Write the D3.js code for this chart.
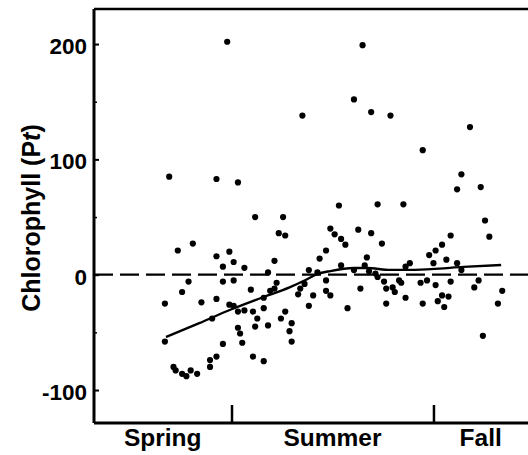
<!DOCTYPE html>
<html>
<head>
<meta charset="utf-8">
<script src="https://cdn.jsdelivr.net/npm/d3@7"></script>
<style>
  body { margin: 0; background: #fff; }
  svg { display: block; }
  text { font-family: "Liberation Sans", Arial, Helvetica, sans-serif; font-weight: bold; fill: #000; }
</style>
</head>
<body>
<svg id="chart" width="528" height="455"></svg>
<script>
// Sampling day of year for each observation
const sampleDay = [
  141, 141, 143, 145, 146, 147, 149, 151, 149, 152, 153, 154, 156, 158, 162, 162, 163, 165, 165, 165,
  165, 168, 168, 168, 170, 171, 171,
  173, 173, 173, 175, 175, 175, 176, 177, 178, 178, 181, 182, 182, 183, 183, 184, 187, 187, 187, 189,
  189, 190, 192, 192, 193, 194, 195, 196, 197, 197, 199, 200, 200, 203, 205, 204, 206, 208, 208, 210,
  212, 213, 216, 216, 216, 218, 218, 220, 222, 223, 223, 225, 226, 229, 229, 231, 232, 233, 234, 235,
  236, 237, 237, 239, 240, 240, 242, 243, 244, 244, 246, 247, 248, 250, 251, 252, 253, 253, 255, 260,
  261, 261, 263, 264,
  266, 267, 267, 268, 270, 270, 271, 272, 273, 274, 274, 277, 277, 279, 279, 283, 285, 287, 288, 289,
  290, 292, 296, 298
];

// Chlorophyll anomaly (Pt) for each observation
const chlorophyll = [
  -25, -58, 85, -80, -83, 21, -86, -88, -15, -6, -83, 27, -86, -24, -80, -74, -38, -71, 83, 16,
  -21, 7, -60, -6, 202, 20, -26,
  11, -5, -27, 80, -32, -46, -51, -59, 6, -31, -13, -32, -71, 50, -45, -38, -20, -29, -75, 2,
  -44, -14, 12, -12, -7, 36, -38, 50, 34, -32, -49, -42, -58, -17, 138, -12, -8, 4, -27, -18,
  2, 14, 21, -5, -14, 40, -18, 35, 60, 31, 8, 26, -29, 152, 4, 39, -12, 199, 8, 15,
  3, 36, 141, 1, 61, -2, 27, -6, -12, -25, 138, -11, -15, -5, -7, 61, -20, 7, 10, -7,
  108, -25, -5, 17,
  10, 21, -9, -23, 26, -18, -28, 13, -19, 34, -6, 10, 74, 87, 4, 128, -11, -5, 76, -53,
  47, 33, -25, -14
];

// Smoothed seasonal trend
const trendDay   = [141.5, 157, 172, 186, 199, 206, 212, 218, 229, 235, 246, 254, 265, 280, 297.5];
const trendValue = [-54, -42, -30, -20, -11, -5, 0.6, 3.2, 5.8, 5.8, 4.1, 4.1, 4.9, 6.7, 8.4];

// Seasons along the time axis (day-of-year boundaries)
const seasons = ["Spring", "Summer", "Fall"];
const seasonEdges = [108, 172, 266, 310];

// Y axis ticks
const majorTicks = [-100, 0, 100, 200];
const minorTicks = [-50, 50, 150];

const svg = d3.select("#chart");
const plotLeft = 94, plotTop = 9, plotRight = 528, plotBottom = 423;

const x = d3.scaleLinear().domain([seasonEdges[0], seasonEdges[3]]).range([plotLeft, plotRight]);
const y = d3.scaleLinear().domain([-128.6, 230.4]).range([plotBottom, plotTop]);

// Zero reference line
svg.append("line")
  .attr("x1", plotLeft).attr("x2", plotRight)
  .attr("y1", y(0)).attr("y2", y(0))
  .attr("stroke", "#000").attr("stroke-width", 2.2)
  .attr("stroke-dasharray", "19,7");

// Observations
svg.append("g").selectAll("circle")
  .data(sampleDay.map((d, i) => [d, chlorophyll[i]]))
  .join("circle")
  .attr("cx", d => x(d[0]))
  .attr("cy", d => y(d[1]))
  .attr("r", 3.1)
  .attr("fill", "#000");

// Trend line
svg.append("path")
  .datum(trendDay.map((d, i) => [d, trendValue[i]]))
  .attr("fill", "none")
  .attr("stroke", "#000")
  .attr("stroke-width", 2.3)
  .attr("stroke-linejoin", "round")
  .attr("d", d3.line().x(d => x(d[0])).y(d => y(d[1])).curve(d3.curveMonotoneX));

// Top frame line
svg.append("line")
  .attr("x1", plotLeft).attr("x2", plotRight)
  .attr("y1", plotTop).attr("y2", plotTop)
  .attr("stroke", "#000").attr("stroke-width", 2.6);

// Left axis with inward ticks (plain hyphen for negatives)
const yAxis = svg.append("g")
  .attr("transform", `translate(${plotLeft},0)`)
  .call(d3.axisLeft(y).tickValues(majorTicks).tickSize(-5).tickSizeOuter(0).tickPadding(7)
    .tickFormat(d => String(d)));
yAxis.attr("font-family", null).attr("font-size", null);
yAxis.select(".domain").attr("stroke-width", 3).attr("d", `M0,${plotTop}V${plotBottom}`);
yAxis.selectAll(".tick line").attr("stroke-width", 2);
yAxis.selectAll(".tick text").attr("font-size", 22.5).attr("dy", "0.42em");

const yMinor = svg.append("g")
  .attr("transform", `translate(${plotLeft},0)`)
  .call(d3.axisLeft(y).tickValues(minorTicks).tickSize(-3).tickFormat(""));
yMinor.select(".domain").remove();
yMinor.selectAll(".tick line").attr("stroke-width", 1.5);

// Bottom axis: season boundary ticks
const xAxis = svg.append("g")
  .attr("transform", `translate(0,${plotBottom})`)
  .call(d3.axisBottom(x).tickValues(seasonEdges.slice(1, 3)).tickSize(-18).tickSizeOuter(0).tickFormat(""));
xAxis.select(".domain").attr("stroke-width", 3).attr("d", `M${plotLeft},0H${plotRight}`);
xAxis.selectAll(".tick line").attr("stroke-width", 2.5);

// Season labels centred in their spans
svg.append("g").selectAll("text")
  .data(seasons)
  .join("text")
  .attr("x", (d, i) => x((seasonEdges[i] + seasonEdges[i + 1]) / 2))
  .attr("y", 445.5)
  .attr("text-anchor", "middle")
  .attr("font-size", 24.5)
  .text(d => d);

// Y axis title
const title = svg.append("text")
  .attr("transform", "translate(40,218) rotate(-90)")
  .attr("text-anchor", "middle")
  .attr("font-size", 25);
title.append("tspan").text("Chlorophyll (P");
title.append("tspan").attr("font-style", "italic").text("t");
title.append("tspan").text(")");
</script>
</body>
</html>
